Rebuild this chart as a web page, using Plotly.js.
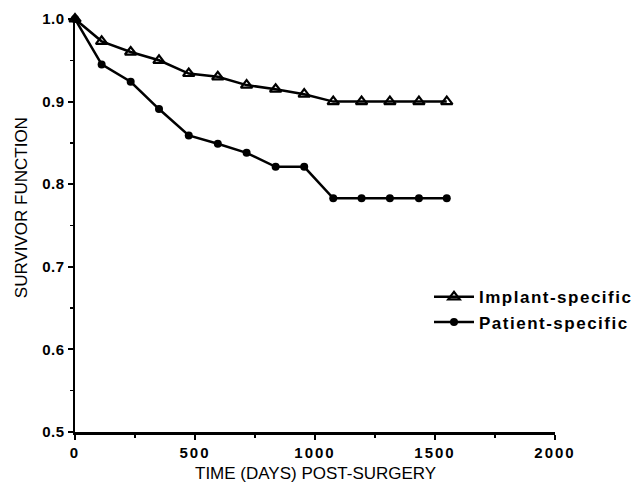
<!DOCTYPE html>
<html>
<head>
<meta charset="utf-8">
<script src="https://cdn.plot.ly/plotly-3.0.1.min.js"></script>
<style>
  html, body { margin: 0; padding: 0; background: #fff; }
  #chart { width: 642px; height: 484px; }
  .legendtext { letter-spacing: 1.5px; }
  .xtick text { letter-spacing: 2px; }
  .ytick text { letter-spacing: 0.5px; }
</style>
</head>
<body>
<div id="chart"></div>
<script>
// Data
const days = [0, 111, 232, 350, 474, 595, 715, 836, 955, 1076, 1194, 1312, 1433, 1549];
const implantSpecific = [1.0, 0.973, 0.960, 0.950, 0.934, 0.930, 0.920, 0.915, 0.909, 0.900, 0.900, 0.900, 0.900, 0.900];
const patientSpecific = [1.0, 0.945, 0.924, 0.891, 0.859, 0.849, 0.838, 0.821, 0.821, 0.783, 0.783, 0.783, 0.783, 0.783];
const seriesNames = ["Implant-specific", "Patient-specific"];
const xTicks = [0, 500, 1000, 1500, 2000];
const yTicks = [0.5, 0.6, 0.7, 0.8, 0.9, 1.0];
const yTickLabels = ["0.5", "0.6", "0.7", "0.8", "0.9", "1.0"];
const xTitle = "TIME (DAYS) POST-SURGERY";
const yTitle = "SURVIVOR FUNCTION";

const traces = [
  {
    x: days, y: implantSpecific, name: seriesNames[0],
    type: "scatter", mode: "lines+markers", cliponaxis: false,
    line: { color: "#000", width: 2.5 },
    marker: { symbol: "triangle-up-open", size: 10, color: "#000", line: { width: 2.2, color: "#000" } }
  },
  {
    x: days, y: patientSpecific, name: seriesNames[1],
    type: "scatter", mode: "lines+markers", cliponaxis: false,
    line: { color: "#000", width: 2.5 },
    marker: { symbol: "circle", size: 8, color: "#000" }
  }
];

const layout = {
  width: 642, height: 484,
  margin: { l: 75, r: 87, t: 19, b: 52, pad: 0, autoexpand: false },
  paper_bgcolor: "#fff", plot_bgcolor: "#fff",
  showlegend: true,
  legend: {
    x: 0.7375, y: 0.296, xanchor: "left", yanchor: "middle",
    bgcolor: "rgba(0,0,0,0)", borderwidth: 0,
    font: { family: "Liberation Sans, Arial, sans-serif", size: 17, color: "#000", weight: "bold" },
    tracegroupgap: 0, itemwidth: 40
  },
  xaxis: {
    range: [0, 2000], tickvals: xTicks, ticktext: xTicks.map(String),
    showgrid: false, zeroline: false,
    showline: true, linecolor: "#000", linewidth: 2.5,
    ticks: "outside", ticklen: 5, tickwidth: 2, tickcolor: "#000",
    minor: { dtick: 250, ticks: "outside", ticklen: 3, tickwidth: 1.5, tickcolor: "#000", showgrid: false },
    tickfont: { family: "Liberation Sans, Arial, sans-serif", size: 15, color: "#000", weight: "bold" },
    fixedrange: true
  },
  yaxis: {
    range: [0.5, 1.0], tickvals: yTicks, ticktext: yTickLabels,
    showgrid: false, zeroline: false,
    showline: true, linecolor: "#000", linewidth: 2.5,
    ticks: "outside", ticklen: 5, tickwidth: 2, tickcolor: "#000",
    minor: { dtick: 0.05, ticks: "outside", ticklen: 3, tickwidth: 1.5, tickcolor: "#000", showgrid: false },
    tickfont: { family: "Liberation Sans, Arial, sans-serif", size: 15, color: "#000", weight: "bold" },
    fixedrange: true
  },
  annotations: [
    {
      text: xTitle, xref: "paper", yref: "paper", x: 0.5, y: -0.1,
      xanchor: "center", yanchor: "middle", showarrow: false,
      font: { family: "Liberation Sans, Arial, sans-serif", size: 17, color: "#000" }
    },
    {
      text: yTitle, xref: "paper", yref: "paper", x: -0.1125, y: 0.542,
      xanchor: "center", yanchor: "middle", showarrow: false, textangle: -90,
      font: { family: "Liberation Sans, Arial, sans-serif", size: 17, color: "#000" }
    }
  ]
};

Plotly.newPlot("chart", traces, layout, { displayModeBar: false, staticPlot: true });
</script>
</body>
</html>
